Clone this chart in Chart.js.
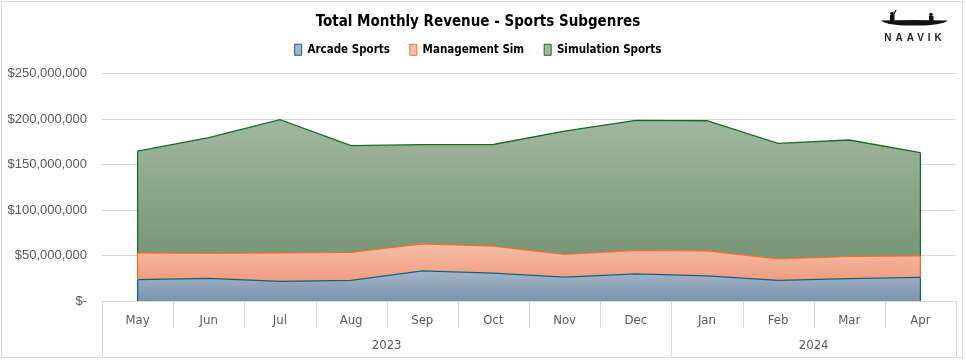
<!DOCTYPE html>
<html>
<head>
<meta charset="utf-8">
<script src="https://cdn.jsdelivr.net/npm/chart.js@4.4.1/dist/chart.umd.min.js"></script>
<style>
    html, body { margin: 0; padding: 0; background: #fff; }
    #wrap { width: 966px; height: 361px; }
</style>
</head>
<body>
<div id="wrap"><canvas id="myChart" width="966" height="361"></canvas></div>
<script>
const months = ['May', 'Jun', 'Jul', 'Aug', 'Sep', 'Oct', 'Nov', 'Dec', 'Jan', 'Feb', 'Mar', 'Apr'];
const years = ['2023', '2023', '2023', '2023', '2023', '2023', '2023', '2023', '2024', '2024', '2024', '2024'];

// monthly revenue in millions of USD
const arcadeSports = [23.4, 24.9, 21.6, 22.7, 33.2, 30.7, 26.3, 29.9, 27.7, 22.7, 24.5, 26.0];
const managementSim = [29.6, 27.4, 31.4, 30.7, 29.6, 29.6, 24.9, 25.7, 27.5, 23.7, 24.5, 23.7];
const simulationSports = [111.8, 127.2, 146.2, 117.3, 109.0, 111.7, 135.5, 142.9, 142.9, 126.8, 127.9, 113.3];

const seriesNames = ['Arcade Sports', 'Management Sim', 'Simulation Sports'];
const seriesData = [arcadeSports, managementSim, simulationSports];
const lineColors = ['#156082', '#E97132', '#196B24'];
const fillTop = ['#a5b5c7', '#f6bda9', '#a0b8a0'];
const fillBottom = ['#7a93ad', '#f09d7e', '#769676'];

const narrow = "'Liberation Sans Narrow', 'DejaVu Sans Condensed', 'Roboto Condensed', sans-serif";

const fmtMoney = (v) => v === 0 ? '$-' : '$' + (v * 1000000).toLocaleString('en-US');

// gradient spanning the band of one stacked series
const bandGradient = (context, idx) => {
    const chart = context.chart;
    const {chartArea, scales} = chart;
    if (!chartArea) return fillBottom[idx];
    const tops = months.map((m, i) => seriesData.slice(0, idx + 1).reduce((s, d) => s + d[i], 0));
    const bottoms = months.map((m, i) => seriesData.slice(0, idx).reduce((s, d) => s + d[i], 0));
    const y0 = scales.y.getPixelForValue(Math.max(...tops));
    const y1 = scales.y.getPixelForValue(Math.min(...bottoms));
    const g = chart.ctx.createLinearGradient(0, y0, 0, y1);
    g.addColorStop(0, fillTop[idx]);
    g.addColorStop(1, fillBottom[idx]);
    return g;
};

// a bit more room under the legend
const legendGap = {
    id: 'legendGap',
    beforeInit(chart) {
        const fit = chart.legend.fit;
        chart.legend.fit = function () {
            fit.bind(chart.legend)();
            this.height += 8;
        };
    }
};

// vertical edges at the ends of each area, like the outlined polygons in the original
const edgePlugin = {
    id: 'edges',
    afterDatasetsDraw(chart) {
        const ctx = chart.ctx;
        const zero = chart.scales.y.getPixelForValue(0);
        ctx.save();
        ctx.lineWidth = 1.3;
        chart.data.datasets.forEach((ds, di) => {
            const meta = chart.getDatasetMeta(di);
            const below = di > 0 ? chart.getDatasetMeta(di - 1) : null;
            [0, months.length - 1].forEach(i => {
                const p = meta.data[i];
                const yb = below ? below.data[i].y : zero;
                ctx.strokeStyle = lineColors[di];
                ctx.beginPath();
                ctx.moveTo(p.x, p.y);
                ctx.lineTo(p.x, yb);
                ctx.stroke();
            });
        });
        ctx.restore();
    }
};

// month dividers, year group row, outer frame and logo
const extrasPlugin = {
    id: 'extras',
    afterDraw(chart) {
        const ctx = chart.ctx;
        const x = chart.scales.x;
        const step = x.width / months.length;
        const top = x.top;
        const monthBottom = top + 27;
        const yearBottom = top + 55;
        ctx.save();
        ctx.strokeStyle = '#d9d9d9';
        ctx.lineWidth = 1;
        ctx.beginPath();
        for (let i = 0; i <= months.length; i++) {
            const px = Math.round(x.getPixelForValue(0) - step / 2 + i * step) + 0.5;
            ctx.moveTo(px, top);
            ctx.lineTo(px, monthBottom);
        }
        ctx.stroke();

        ctx.fillStyle = '#595959';
        ctx.font = '13px ' + narrow;
        ctx.textAlign = 'center';
        ctx.textBaseline = 'middle';
        let start = 0;
        for (let i = 1; i <= years.length; i++) {
            if (i === years.length || years[i] !== years[start]) {
                const left = x.getPixelForValue(start) - step / 2;
                const right = x.getPixelForValue(i - 1) + step / 2;
                ctx.beginPath();
                [left, right].forEach(px => {
                    ctx.moveTo(Math.round(px) + 0.5, top);
                    ctx.lineTo(Math.round(px) + 0.5, yearBottom);
                });
                ctx.stroke();
                ctx.fillText(years[start], (left + right) / 2, top + 45);
                start = i;
            }
        }

        // frame
        ctx.strokeStyle = '#d9d9d9';
        ctx.strokeRect(1.5, 1.5, 961, 356);

        // logo
        ctx.fillStyle = '#111';
        ctx.beginPath();
        ctx.moveTo(881, 20.5);
        ctx.quadraticCurveTo(914, 19.5, 948, 20.5);
        ctx.quadraticCurveTo(940, 26, 914, 25.5);
        ctx.quadraticCurveTo(888, 26, 881, 20.5);
        ctx.fill();
        ctx.fillRect(890, 15, 4.5, 6);
        ctx.beginPath();
        ctx.arc(892, 13.5, 1.8, 0, Math.PI * 2);
        ctx.fill();
        ctx.fillRect(929, 16, 4.5, 5);
        ctx.beginPath();
        ctx.arc(931, 14.5, 1.8, 0, Math.PI * 2);
        ctx.fill();
        ctx.strokeStyle = '#111';
        ctx.lineWidth = 1.2;
        ctx.beginPath();
        ctx.moveTo(896, 10);
        ctx.lineTo(889, 24);
        ctx.stroke();
        ctx.font = 'bold 10px ' + "'Liberation Sans', Arial, sans-serif";
        ctx.textAlign = 'center';
        ctx.fillStyle = '#222';
        ctx.letterSpacing = '4px';
        ctx.fillText('NAAVIK', 915, 38);
        ctx.restore();
    }
};

const ctx = document.getElementById('myChart');
new Chart(ctx, {
    type: 'line',
    data: {
        labels: months,
        datasets: seriesData.map((d, i) => ({
            label: seriesNames[i],
            data: d,
            borderColor: lineColors[i],
            borderWidth: 1.3,
            backgroundColor: (c) => bandGradient(c, i),
            fill: i === 0 ? 'origin' : '-1',
            pointRadius: 0,
            tension: 0
        }))
    },
    options: {
        responsive: false,
        devicePixelRatio: 1,
        animation: false,
        layout: {
            padding: {left: 0, right: 10, top: 7, bottom: 5}
        },
        plugins: {
            title: {
                display: true,
                text: 'Total Monthly Revenue - Sports Subgenres',
                color: '#000',
                font: {family: narrow, size: 15, weight: 'bold'},
                padding: {top: 6, bottom: -7}
            },
            legend: {
                display: true,
                labels: {
                    color: '#000',
                    font: {family: narrow, size: 11.5, weight: 'bold'},
                    boxWidth: 7,
                    boxHeight: 11,
                    padding: 20,
                    generateLabels: () => seriesNames.map((n, i) => ({
                        text: n,
                        fillStyle: fillTop[i],
                        strokeStyle: lineColors[i],
                        lineWidth: 1,
                        datasetIndex: i,
                        hidden: false
                    }))
                }
            },
            tooltip: {enabled: false}
        },
        scales: {
            x: {
                offset: true,
                grid: {display: false},
                border: {display: true, color: '#d9d9d9'},
                ticks: {
                    color: '#595959',
                    font: {family: narrow, size: 13},
                    padding: 4,
                    maxRotation: 0,
                    autoSkip: false
                },
                afterFit: (scale) => { scale.height = 55; }
            },
            y: {
                stacked: true,
                min: 0,
                max: 250,
                border: {display: false},
                grid: {color: '#d9d9d9', drawTicks: false},
                ticks: {
                    stepSize: 50,
                    color: '#595959',
                    font: {family: "'Liberation Sans', Arial, sans-serif", size: 13},
                    padding: 15,
                    callback: (v) => fmtMoney(v)
                },
                afterFit: (scale) => { scale.width = 102; }
            }
        }
    },
    plugins: [legendGap, edgePlugin, extrasPlugin]
});
</script>
</body>
</html>
